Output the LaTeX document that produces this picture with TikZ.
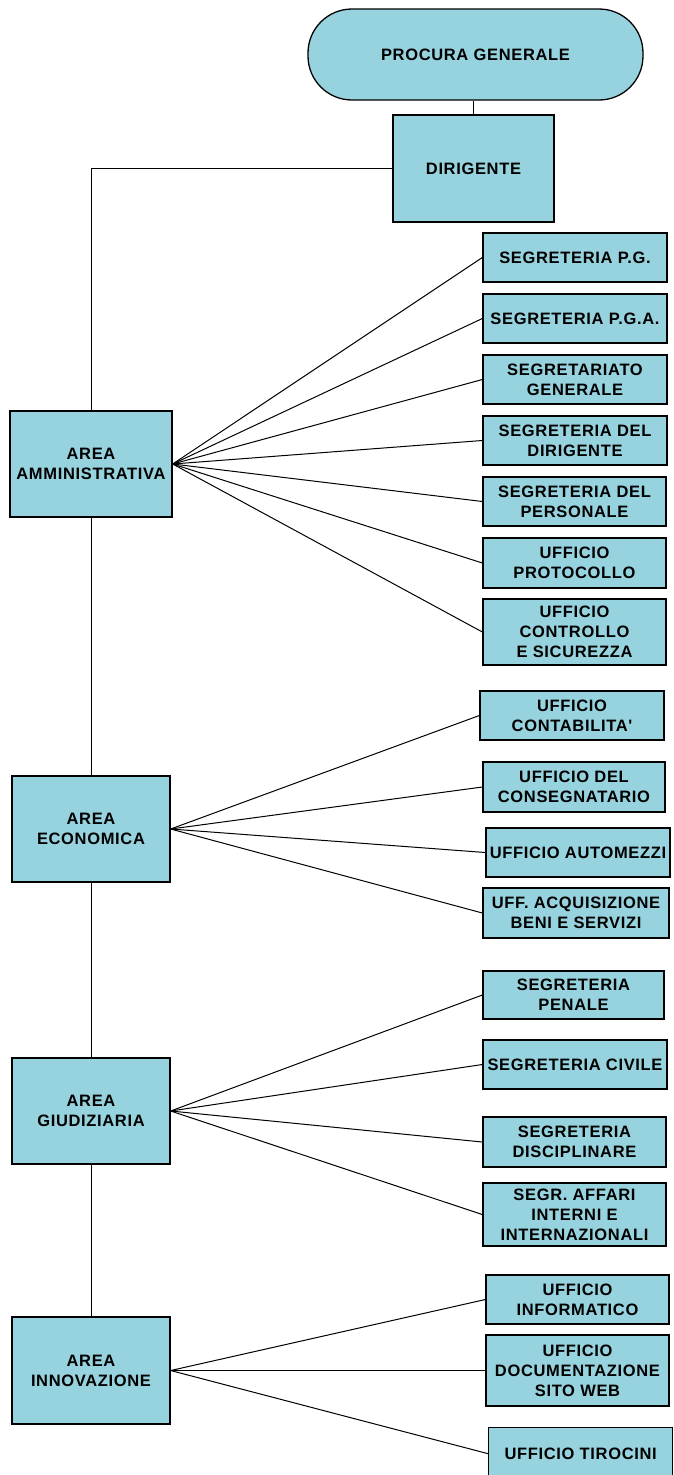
\documentclass[tikz,border=0pt]{standalone}
\usepackage{fontspec}
\newfontfamily\labfont{Liberation Sans}[LetterSpace=4]
\definecolor{boxfill}{RGB}{151,211,222}
\tikzset{
  box/.style={draw=black, fill=boxfill, line width=1.3pt, inner sep=0pt, align=center,
    font=\labfont\bfseries\fontsize{16.5}{20}\selectfont},
  link/.style={draw=black, line width=1pt},
}
\newcommand\mkbox[6]{\node[box, minimum width={#4-#2}, minimum height={#5-#3}] (#1) at ({(#2+#4)/2},{(#3+#5)/2}) {#6};}
\begin{document}
\begin{tikzpicture}[x=1pt,y=-1pt]
\useasboundingbox (0,0) rectangle (673,1475);
\clip (0,0) rectangle (673,1475);
% top
\node[box, rounded corners=44pt, minimum width=335, minimum height=91] (pg) at (475.5,54.5) {PROCURA GENERALE};
\mkbox{dir}{393}{115}{554}{222}{DIRIGENTE}
% areas
\mkbox{amm}{10}{411}{172}{517}{AREA\\AMMINISTRATIVA}
\mkbox{eco}{12}{776}{170}{882}{AREA\\ECONOMICA}
\mkbox{giu}{12}{1058}{170}{1164}{AREA\\GIUDIZIARIA}
\mkbox{inn}{12}{1317}{170}{1424}{AREA\\INNOVAZIONE}
% amministrativa
\mkbox{spg}{483}{233}{667}{282}{SEGRETERIA P.G.}
\mkbox{spga}{483}{294}{667}{343}{SEGRETERIA P.G.A.}
\mkbox{sgen}{483}{355}{667}{404}{SEGRETARIATO\\GENERALE}
\mkbox{sdir}{483}{416}{667}{465}{SEGRETERIA DEL\\DIRIGENTE}
\mkbox{spers}{483}{477}{666}{526}{SEGRETERIA DEL\\PERSONALE}
\mkbox{uprot}{483}{538}{666}{588}{UFFICIO\\PROTOCOLLO}
\mkbox{uctrl}{483}{599}{666}{665}{UFFICIO\\CONTROLLO\\E SICUREZZA}
% economica
\mkbox{ucont}{480}{691}{664}{740}{UFFICIO\\CONTABILITA'}
\mkbox{ucons}{483}{762}{665}{812}{UFFICIO DEL\\CONSEGNATARIO}
\mkbox{uauto}{486}{828}{670}{877}{UFFICIO AUTOMEZZI}
\mkbox{uacq}{483}{888}{669}{938}{UFF. ACQUISIZIONE\\BENI E SERVIZI}
% giudiziaria
\mkbox{spen}{483}{971}{664}{1019}{SEGRETERIA\\PENALE}
\mkbox{sciv}{483}{1040}{667}{1089}{SEGRETERIA CIVILE}
\mkbox{sdisc}{483}{1117}{666}{1167}{SEGRETERIA\\DISCIPLINARE}
\mkbox{saff}{483}{1183}{666}{1246}{SEGR. AFFARI\\INTERNI E\\INTERNAZIONALI}
% innovazione
\mkbox{uinf}{486}{1275}{669}{1324}{UFFICIO\\INFORMATICO}
\mkbox{udoc}{486}{1335}{669}{1406}{UFFICIO\\DOCUMENTAZIONE\\SITO WEB}
\node[box, minimum width=184, minimum height=52, anchor=north west, text depth=0pt] (utir) at (488,1427) {UFFICIO TIROCINI};
% connectors
\draw[link] (dir.north) -- (dir.north |- pg.south);
\draw[link] (dir.west) -| (amm.north);
\draw[link] (amm.south) -- (eco.north);
\draw[link] (eco.south) -- (giu.north);
\draw[link] (giu.south) -- (inn.north);
\foreach \t in {spg,spga,sgen,sdir,spers,uprot,uctrl} \draw[link] (amm.east) -- (\t.west);
\foreach \t in {ucont,ucons,uauto,uacq} \draw[link] (eco.east) -- (\t.west);
\foreach \t in {spen,sciv,sdisc,saff} \draw[link] (giu.east) -- (\t.west);
\foreach \t in {uinf,udoc,utir} \draw[link] (inn.east) -- (\t.west);
\end{tikzpicture}
\end{document}
